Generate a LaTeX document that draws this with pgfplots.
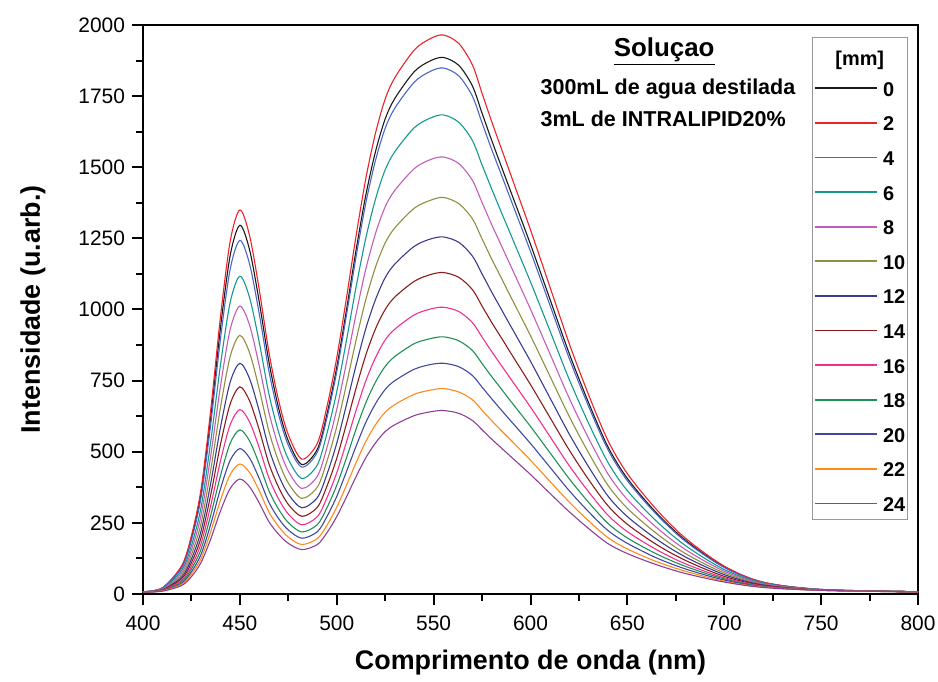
\documentclass[border=0pt]{standalone}
\usepackage{fontspec}
\setmainfont{Liberation Sans}
\usepackage{pgfplots}
\usepackage{pgfplotstable}
\pgfplotsset{compat=1.18}
\definecolor{cR}{HTML}{EE2229}
\definecolor{cK}{HTML}{1A1A1A}
\definecolor{cB}{HTML}{4A66C8}
\definecolor{cT}{HTML}{139A8F}
\definecolor{cM}{HTML}{C45CB8}
\definecolor{cO}{HTML}{8F8F40}
\definecolor{cN}{HTML}{3A3A8F}
\definecolor{cD}{HTML}{8C1C1C}
\definecolor{cP}{HTML}{F0308C}
\definecolor{cG}{HTML}{1E8F55}
\definecolor{cNN}{HTML}{4048A0}
\definecolor{cOr}{HTML}{FF8A1A}
\definecolor{cPu}{HTML}{8E3F96}
\pgfplotstableread{
x r k b t m o n d p g nn oo pu
400 8 8 8 8 8 7 7 7 7 7 7 7 7
410 22 21 21 19 18 16 15 14 13 12 11 11 10
420 100 96 92 83 75 67 60 54 48 43 38 34 30
425 205 197 189 170 154 138 123 110 98 88 78 70 61
430 370 355 341 306 278 249 222 199 178 158 140 125 111
435 650 624 599 538 488 437 391 350 312 278 246 220 194
440 975 936 898 806 731 656 586 526 468 416 370 330 292
445 1240 1190 1142 1025 930 835 745 668 595 530 470 420 371
450 1350 1296 1243 1117 1012 909 811 728 648 577 511 457 404
455 1260 1210 1160 1042 945 848 757 679 605 538 478 427 377
460 1070 1027 985 885 802 720 643 577 514 457 406 363 320
465 850 816 783 703 638 572 511 458 408 363 322 288 254
470 680 653 631 569 517 466 417 375 334 298 265 237 210
475 560 538 523 474 432 390 351 315 281 251 225 200 178
482 474 455 446 406 371 336 303 273 243 218 196 174 156
490 530 509 499 454 414 376 339 305 272 244 219 195 174
495 660 634 621 566 516 468 422 380 339 304 273 242 216
500 830 797 781 711 649 588 530 477 426 382 343 305 272
505 1040 998 979 891 813 737 665 598 534 478 430 382 341
510 1260 1210 1186 1080 985 893 805 724 646 580 520 462 413
515 1460 1402 1374 1251 1142 1035 933 840 749 672 603 536 479
520 1620 1555 1524 1388 1267 1149 1035 932 831 745 669 595 531
525 1740 1670 1637 1491 1361 1234 1112 1000 893 800 719 639 571
530 1815 1742 1708 1555 1419 1287 1160 1044 931 835 750 666 595
540 1912 1836 1799 1639 1495 1356 1222 1099 981 880 790 702 627
548 1951 1873 1836 1672 1526 1383 1247 1122 1001 897 806 716 640
555 1965 1886 1849 1684 1536 1394 1255 1130 1008 904 811 722 645
563 1935 1858 1821 1658 1513 1372 1236 1113 993 890 799 710 635
570 1860 1786 1750 1594 1454 1319 1188 1070 954 856 768 683 610
575 1760 1690 1656 1508 1376 1248 1125 1012 903 810 727 646 577
580 1660 1594 1562 1423 1298 1177 1061 954 852 764 686 609 544
585 1565 1502 1473 1341 1224 1110 1000 900 803 720 646 574 513
590 1470 1411 1383 1260 1150 1042 939 845 754 676 607 540 482
600 1280 1229 1204 1097 1001 908 818 736 657 589 529 470 420
610 1080 1037 1016 926 845 766 690 621 554 497 446 396 354
620 880 845 828 754 688 624 562 506 451 405 363 323 289
630 700 672 659 600 547 496 447 402 359 322 289 257 230
640 539 517 507 462 422 382 344 310 277 248 223 198 177
650 423 406 398 363 332 301 272 245 219 197 178 158 142
665 297 285 280 256 234 213 193 174 156 141 127 114 103
680 196 189 185 170 156 142 130 118 106 97 88 80 72
700 98 95 93 86 80 74 68 62 57 53 49 45 42
720 42 41 40 38 36 34 32 30 28 26 25 24 23
750 16 16 16 15 15 15 14 14 14 13 13 13 13
800 8 8 8 8 8 8 8 8 8 8 7 7 7
}\spec
\begin{document}
\begin{tikzpicture}
\path[use as bounding box] (-71.5bp,-44bp) rectangle (397.5bp,297bp);
\begin{axis}[
  at={(0,0)}, anchor=south west,
  scale only axis, width=387.5bp, height=284.5bp,
  xmin=400, xmax=800, ymin=0, ymax=2000,
  xtick={400,450,...,800}, ytick={0,250,...,2000},
  minor x tick num=1, minor y tick num=1,
  tick pos=left, tick align=outside,
  major tick length=5.5bp, minor tick length=3.3bp,
  axis line style={line width=1bp, black},
  every tick/.style={black, line width=1bp},
  tick label style={font=\fontsize{10.5}{12}\selectfont, black},
  xticklabel style={yshift=-2bp},
  /pgf/number format/assume math mode=true,
  /pgf/number format/1000 sep={},
  xlabel={Comprimento de onda (nm)},
  ylabel={Intensidade (u.arb.)},
  label style={font=\bfseries\fontsize{13.5}{16}\selectfont},
  xlabel style={at={(axis description cs:0.5,-0.1213)}, anchor=center},
  ylabel style={at={(axis description cs:-0.142,0.5)}, anchor=center},
  every axis plot/.append style={line width=0.55bp, smooth, tension=0.5},
  legend image code/.code={\draw[#1, line width=0.9bp] (0bp,0bp) -- (31bp,0bp);},
  legend style={at={(axis description cs:1,1)}, anchor=north east, xshift=-5bp, yshift=-6bp,
    draw=gray!80, line width=0.7bp, fill=white,
    font=\bfseries\fontsize{10}{12}\selectfont,
    inner xsep=1bp, inner ysep=4bp, row sep=9.3bp, column sep=2.5bp,
    nodes={inner sep=0pt, text height=8bp, text depth=0pt}},
  legend cell align=left,
]
\addlegendimage{empty legend}\addlegendentry{\llap{\raisebox{-2bp}{[mm]}}}
\addplot[cK] table[x=x,y=k]{\spec}; \addlegendentry{0}
\addplot[cR] table[x=x,y=r]{\spec}; \addlegendentry{2}
\addplot[cB] table[x=x,y=b]{\spec}; \addlegendentry{4}
\addplot[cT] table[x=x,y=t]{\spec}; \addlegendentry{6}
\addplot[cM] table[x=x,y=m]{\spec}; \addlegendentry{8}
\addplot[cO] table[x=x,y=o]{\spec}; \addlegendentry{10}
\addplot[cN] table[x=x,y=n]{\spec}; \addlegendentry{12}
\addplot[cD] table[x=x,y=d]{\spec}; \addlegendentry{14}
\addplot[cP] table[x=x,y=p]{\spec}; \addlegendentry{16}
\addplot[cG] table[x=x,y=g]{\spec}; \addlegendentry{18}
\addplot[cNN] table[x=x,y=nn]{\spec}; \addlegendentry{20}
\addplot[cOr] table[x=x,y=oo]{\spec}; \addlegendentry{22}
\addplot[cPu] table[x=x,y=pu]{\spec}; \addlegendentry{24}
\node[anchor=base, inner sep=0pt, font=\bfseries\fontsize{13}{15}\selectfont] at (axis cs:669,1889) {\underline{Soluçao}};
\node[anchor=base west, inner sep=0pt, font=\bfseries\fontsize{10.8}{12}\selectfont] at (axis cs:605,1754) {300mL de agua destilada};
\node[anchor=base west, inner sep=0pt, font=\bfseries\fontsize{10.8}{12}\selectfont] at (axis cs:605,1643) {3mL de INTRALIPID20\%};
\end{axis}
\end{tikzpicture}
\end{document}
